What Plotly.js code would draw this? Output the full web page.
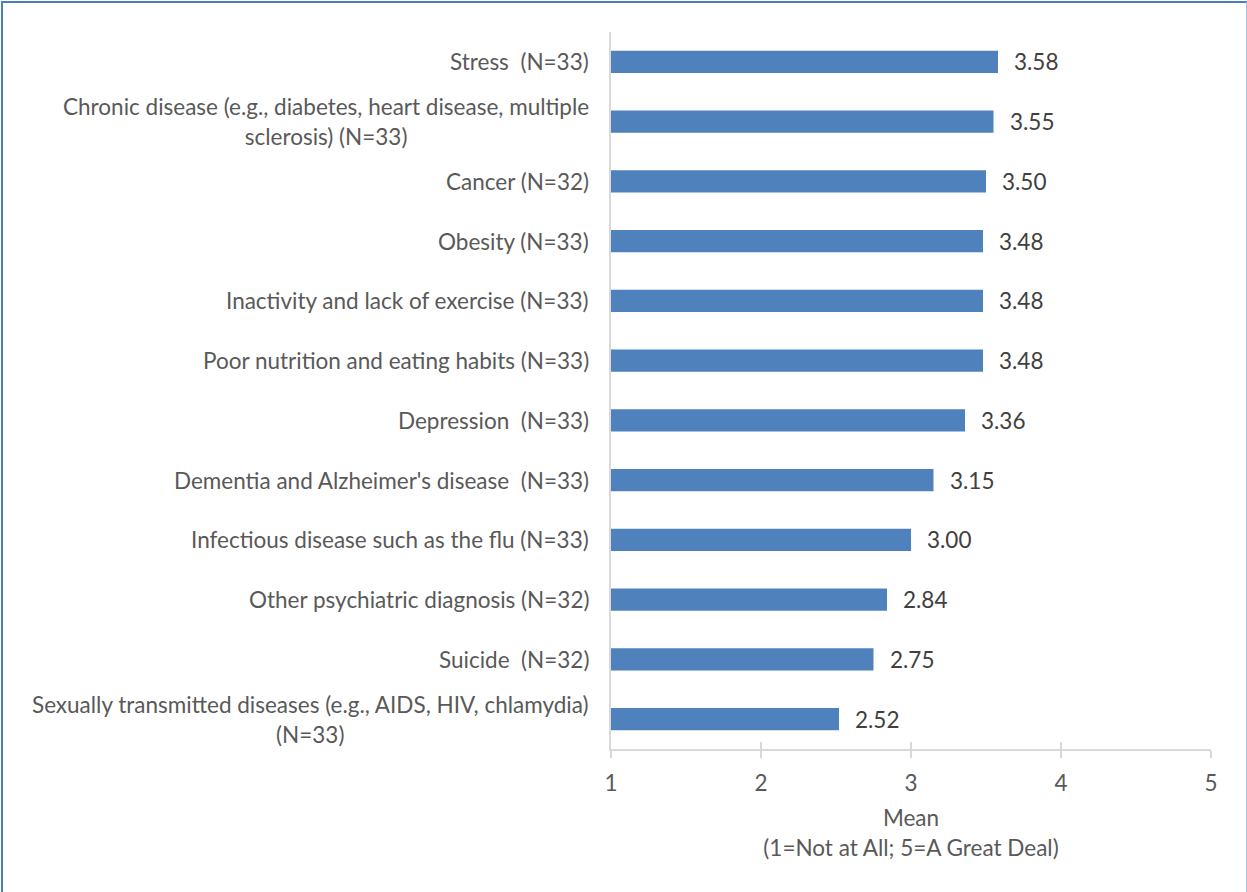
<!DOCTYPE html>
<html><head><meta charset="utf-8">
<script src="https://cdn.plot.ly/plotly-3.0.1.min.js"></script>
<style>
html,body{margin:0;padding:0;background:#fff;}
#chart{position:absolute;left:0;top:0;width:1247px;height:892px;}
#frame{position:absolute;left:1px;top:1px;width:1246px;height:891px;box-sizing:border-box;border-left:2px solid #4a7ebb;border-top:2px solid #4a7ebb;border-right:1px solid #a9c2e6;pointer-events:none;}
</style></head>
<body>
<div id="chart"></div>
<div id="frame"></div>
<script>
var categories = [
  "Stress  (N=33)",
  "Chronic disease (e.g., diabetes, heart disease, multiple<br>sclerosis) (N=33)",
  "Cancer (N=32)",
  "Obesity (N=33)",
  "Inactivity and lack of exercise (N=33)",
  "Poor nutrition and eating habits (N=33)",
  "Depression  (N=33)",
  "Dementia and Alzheimer's disease  (N=33)",
  "Infectious disease such as the flu (N=33)",
  "Other psychiatric diagnosis (N=32)",
  "Suicide  (N=32)",
  "Sexually transmitted diseases (e.g., AIDS, HIV, chlamydia)<br>(N=33)"
];
var means = [3.58, 3.55, 3.50, 3.48, 3.48, 3.48, 3.36, 3.15, 3.00, 2.84, 2.75, 2.52];
var xTicks = [1, 2, 3, 4, 5];
var xTitleLines = ["Mean", "(1=Not at All; 5=A Great Deal)"];

var FONT = "Lato, 'Open Sans', sans-serif";
var FS = 22.5;
var LABEL_COLOR = "#595959";
var VALUE_COLOR = "#404040";

function spaced(lines, size){
  return lines.map(function(s){ return '<span style="font-size:' + size + 'px">' + s + '</span>'; }).join('<br>');
}

var annotations = [];
categories.forEach(function(c, i){
  annotations.push({
    xref: 'paper', yref: 'y', x: 0, y: c,
    xanchor: 'right', yanchor: 'middle', xshift: -20, align: 'center',
    text: spaced(c.split('<br>'), FS), showarrow: false,
    font: {family: FONT, size: 23, color: LABEL_COLOR}
  });
  annotations.push({
    xref: 'x', yref: 'y', x: means[i], y: c,
    xanchor: 'left', yanchor: 'middle', xshift: 14,
    text: means[i].toFixed(2), showarrow: false,
    font: {family: FONT, size: FS, color: VALUE_COLOR}
  });
});

var trace = {
  type: 'bar', orientation: 'h',
  x: means, y: categories,
  marker: {color: '#4f81bd', line: {width: 0}},
  width: 0.37, hoverinfo: 'x+y'
};

var dummy = {type: 'scatter', x: [1], y: [categories[0]], xaxis: 'x2', yaxis: 'y', mode: 'markers', marker: {opacity: 0}, hoverinfo: 'skip', showlegend: false};

var layout = {
  width: 1247, height: 892,
  margin: {l: 611, r: 36, t: 32, b: 143, pad: 0},
  paper_bgcolor: '#ffffff', plot_bgcolor: '#ffffff',
  showlegend: false,
  font: {family: FONT, color: LABEL_COLOR},
  xaxis: {
    range: [1, 5], tickvals: xTicks, ticktext: xTicks.map(String),
    showgrid: false, zeroline: false,
    showline: true, linecolor: '#d9d9d9', linewidth: 1.5,
    ticks: 'outside', ticklen: 7, tickwidth: 1.5, tickcolor: '#d9d9d9',
    ticklabelstandoff: 6,
    tickfont: {family: FONT, size: FS, color: LABEL_COLOR},
    title: {text: spaced(xTitleLines, FS), standoff: 15, font: {family: FONT, size: 23, color: LABEL_COLOR}},
    fixedrange: true
  },
  xaxis2: {
    overlaying: 'x', side: 'bottom', anchor: 'y',
    range: [1, 5], tickvals: xTicks, showticklabels: false,
    showgrid: false, zeroline: false, showline: false,
    ticks: 'inside', ticklen: 7, tickwidth: 1.5, tickcolor: '#d9d9d9'
  },
  yaxis: {
    type: 'category', range: [11.5, -0.5], showticklabels: false, ticks: '',
    showgrid: false, zeroline: false,
    showline: true, linecolor: '#d9d9d9', linewidth: 1.5,
    fixedrange: true
  },
  annotations: annotations,
  bargap: 0.63
};

Plotly.newPlot('chart', [trace, dummy], layout, {displayModeBar: false});
</script>
</body></html>
